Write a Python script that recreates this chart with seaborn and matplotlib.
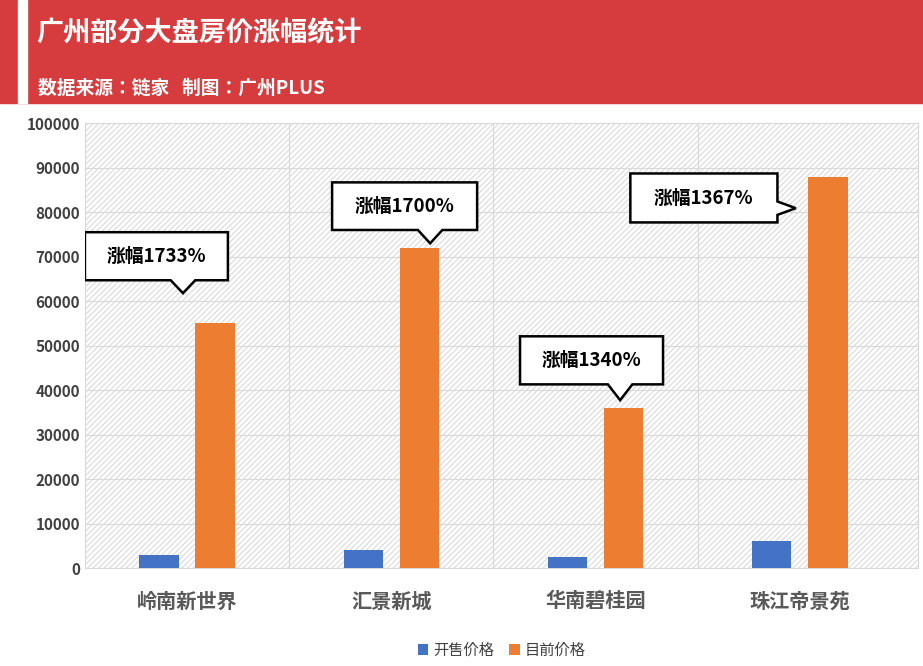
import matplotlib
matplotlib.use("Agg")
import matplotlib.pyplot as plt
import matplotlib.patches as mpatches
from matplotlib import font_manager
import seaborn as sns
import pandas as pd

cjk = sorted({f.name for f in font_manager.fontManager.ttflist if "CJK" in f.name})
family = next((n for n in cjk if "SC" in n), cjk[0] if cjk else "DejaVu Sans")
plt.rcParams["font.family"] = [family, "DejaVu Sans"]
plt.rcParams["hatch.color"] = "#E0E0E0"

estates = ["岭南新世界", "汇景新城", "华南碧桂园", "珠江帝景苑"]
open_price = [3000, 4000, 2500, 6000]
now_price = [55000, 72000, 36000, 88000]
growth_labels = ["涨幅1733%", "涨幅1700%", "涨幅1340%", "涨幅1367%"]
series = ["开售价格", "目前价格"]

df = pd.DataFrame({
    "楼盘": estates * 2,
    "价格": open_price + now_price,
    "类型": [series[0]] * 4 + [series[1]] * 4,
})

fig = plt.figure(figsize=(9.23, 6.66), dpi=100)
ax = fig.add_axes([0.092, 0.147, 0.903, 0.668])

# header
fig.patches.append(mpatches.Rectangle((0, 1 - 103 / 666), 1, 103 / 666, transform=fig.transFigure,
                                      color="#D63B3E", zorder=0))
fig.patches.append(mpatches.Rectangle((18 / 923, 1 - 103 / 666), 9 / 923, 103 / 666,
                                      transform=fig.transFigure, color="white", zorder=1))
fig.text(36 / 923, 1 - 33 / 666, "广州部分大盘房价涨幅统计", color="white", fontsize=19.5,
         fontweight="bold", va="center")
fig.text(38 / 923, 1 - 88 / 666, "数据来源：链家   制图：广州PLUS", color="white", fontsize=13.5,
         fontweight="bold", va="center")

# hatched background
ax.add_patch(mpatches.Rectangle((0, 0), 1, 1, transform=ax.transAxes, facecolor="white",
                                edgecolor="#E0E0E0", hatch="//////", lw=0, zorder=0))

sns.barplot(data=df, x="楼盘", y="价格", hue="类型", palette=["#4472C4", "#ED7D31"],
            width=0.55, gap=0.3, ax=ax, zorder=3, saturation=1)

ax.set_xlim(-0.5, 3.58)
ax.set_ylim(0, 100000)
ax.set_yticks(range(0, 100001, 10000))
ax.yaxis.grid(True, color="#D9D9D9", lw=0.8, zorder=1)
for xb in [0.5, 1.5, 2.5]:
    ax.axvline(xb, color="#D9D9D9", lw=0.8, zorder=1)
ax.set_axisbelow(True)
for s in ax.spines.values():
    s.set_color("#D9D9D9")
ax.tick_params(length=0)
ax.set_xlabel("")
ax.set_ylabel("")
for t in ax.get_yticklabels():
    t.set_fontsize(11)
    t.set_color("#404040")
    t.set_fontweight("bold")
for t in ax.get_xticklabels():
    t.set_fontsize(14.5)
    t.set_color("#595959")
    t.set_fontweight("bold")
ax.tick_params(axis="x", pad=16)

# callouts: box edges, pointer tip, pointer direction (relative to category)
callouts = [
    (-0.5, 0.2, 64700, 75500, -0.02, 61800, "down"),
    (-0.29, 0.42, 76000, 86700, 0.19, 73000, "down"),
    (-0.37, 0.33, 41300, 52100, 0.12, 37750, "down"),
    (-0.83, -0.11, 77700, 88700, -0.02, 80900, "right"),
]
for i, (x0, x1, y0, y1, tx, ty, d) in enumerate(callouts):
    x0 += i; x1 += i; tx += i
    if d == "down":
        pts = [(x0, y1), (x1, y1), (x1, y0), (tx + 0.06, y0), (tx, ty), (tx - 0.06, y0), (x0, y0)]
    else:
        pts = [(x0, y1), (x1, y1), (x1, ty + 1500), (tx, ty), (x1, ty - 1500), (x1, y0), (x0, y0)]
    ax.add_patch(mpatches.Polygon(pts, closed=True, facecolor="white", edgecolor="black",
                                  lw=1.8, zorder=5))
    ax.text((x0 + x1) / 2, (y0 + y1) / 2, growth_labels[i], ha="center", va="center",
            fontsize=13.5, fontweight="bold", zorder=6)

ax.legend(loc="upper center", bbox_to_anchor=(0.5, -0.135), ncol=2, frameon=False,
          fontsize=11, handlelength=0.7, handleheight=0.7, columnspacing=1.0, handletextpad=0.3,
          labelcolor="#404040")

fig.savefig("out.png", dpi=100)
